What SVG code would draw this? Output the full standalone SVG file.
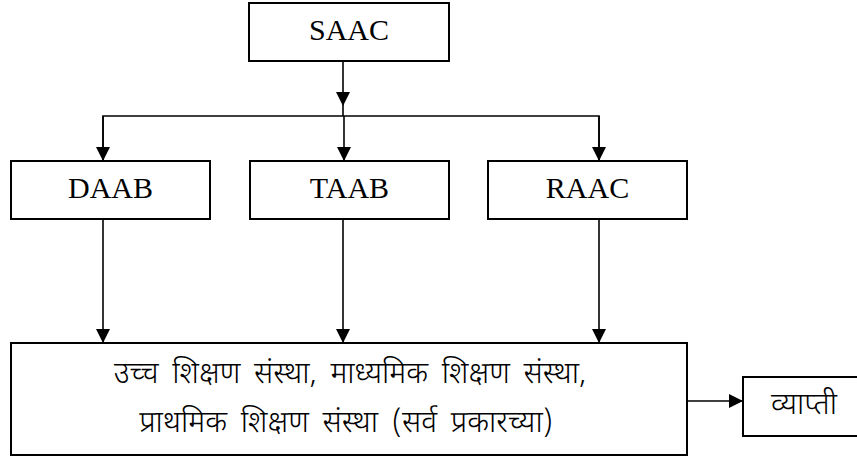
<svg xmlns="http://www.w3.org/2000/svg" width="857" height="459" viewBox="0 0 857 459">
<style>
.box{fill:#fff;stroke:#000;stroke-width:2}
.lbl{font-family:"Liberation Serif","Times New Roman",serif;font-size:30px;fill:#000;text-anchor:middle}
.dev{font-family:"Noto Sans Devanagari","Noto Sans",sans-serif;font-weight:300;font-size:30px;fill:#000;text-anchor:middle;word-spacing:6px}
.ln{fill:none;stroke:#000;stroke-width:1.6}
</style>
<defs>
<marker id="ah" markerUnits="userSpaceOnUse" markerWidth="14" markerHeight="14" refX="14" refY="7" orient="auto">
<path d="M0,0 L14,7 L0,14 z" fill="#000"/>
</marker>
</defs>
<g id="connectors">
<line class="ln" x1="343" y1="61" x2="343" y2="106" marker-end="url(#ah)"/>
<line class="ln" x1="343" y1="106" x2="343" y2="116"/>
<polyline class="ln" points="103,161 103,116 599,116 599,161"/>
<line class="ln" x1="103" y1="116" x2="103" y2="161" marker-end="url(#ah)"/>
<line class="ln" x1="344" y1="116" x2="344" y2="161" marker-end="url(#ah)"/>
<line class="ln" x1="599" y1="116" x2="599" y2="161" marker-end="url(#ah)"/>
<line class="ln" x1="103" y1="219" x2="103" y2="343" marker-end="url(#ah)"/>
<line class="ln" x1="343" y1="219" x2="343" y2="343" marker-end="url(#ah)"/>
<line class="ln" x1="599" y1="219" x2="599" y2="343" marker-end="url(#ah)"/>
<line class="ln" x1="687" y1="401" x2="743" y2="401" marker-end="url(#ah)"/>
</g>
<g id="saac">
<rect class="box" x="249" y="3" width="200" height="58"/>
<text class="lbl" x="349" y="40">SAAC</text>
</g>
<g id="daab">
<rect class="box" x="11" y="161" width="199" height="58"/>
<text class="lbl" x="110.5" y="198">DAAB</text>
</g>
<g id="taab">
<rect class="box" x="250" y="161" width="199" height="58"/>
<text class="lbl" x="349.5" y="198">TAAB</text>
</g>
<g id="raac">
<rect class="box" x="488" y="161" width="199" height="58"/>
<text class="lbl" x="587.5" y="198">RAAC</text>
</g>
<g id="institutions">
<rect class="box" x="11" y="343" width="676" height="112"/>
<text class="dev" x="350" y="383">उच्च शिक्षण संस्था, माध्यमिक शिक्षण संस्था,</text>
<text class="dev" x="346" y="432">प्राथमिक शिक्षण संस्था (सर्व प्रकारच्या)</text>
</g>
<g id="vyapti">
<rect class="box" x="743" y="377" width="120" height="59"/>
<text class="dev" x="804" y="414">व्याप्ती</text>
</g>
</svg>
